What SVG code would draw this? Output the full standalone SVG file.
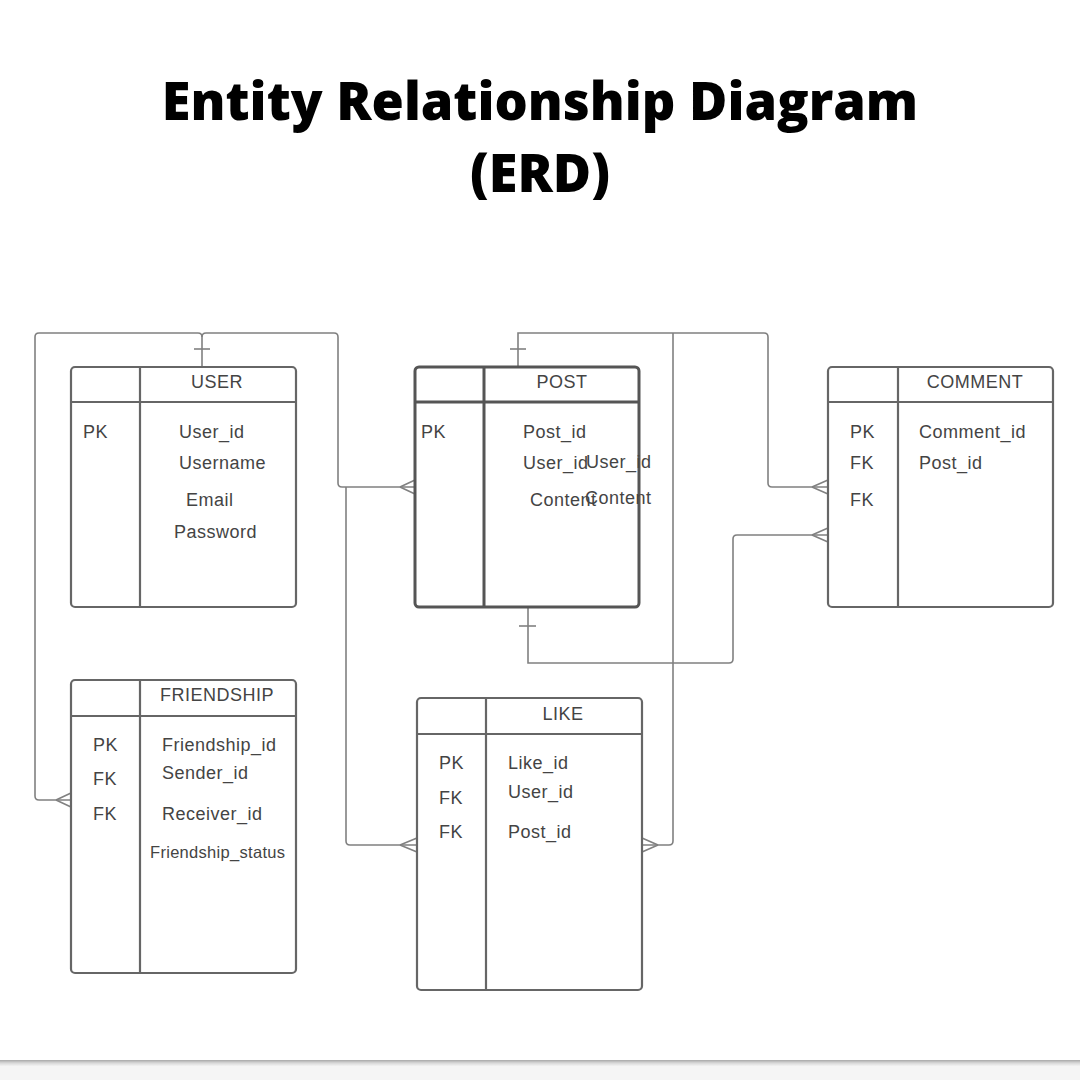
<svg xmlns="http://www.w3.org/2000/svg" width="1080" height="1080" viewBox="0 0 1080 1080">
<defs>
<linearGradient id="shadow" x1="0" y1="0" x2="0" y2="1">
<stop offset="0" stop-color="#a8a8a8"/>
<stop offset="0.5" stop-color="#d8d8d8"/>
<stop offset="1" stop-color="#f2f2f2"/>
</linearGradient>
</defs>
<style>
.title{font-family:"Open Sans","DejaVu Sans",sans-serif;font-weight:800;font-size:52.3px;fill:#000;text-anchor:middle}
.box{fill:#fff;stroke:#666;stroke-width:2.2}
.boxb{fill:#fff;stroke:#555;stroke-width:3}
.div{stroke:#666;stroke-width:2.2;fill:none}
.divb{stroke:#555;stroke-width:3;fill:none}
.t{font-family:"Liberation Sans",Arial,sans-serif;font-size:18px;letter-spacing:0.5px;fill:#444}
.ts{font-family:"Liberation Sans",Arial,sans-serif;font-size:16.5px;letter-spacing:0.3px;fill:#444}
.c{text-anchor:middle}
.ln{fill:none;stroke:#808080;stroke-width:1.6}
</style>
<rect width="1080" height="1080" fill="#fff"/>
<rect x="0" y="1060" width="1080" height="20" fill="#f5f5f5"/>
<rect x="0" y="1060" width="1080" height="6" fill="url(#shadow)"/>

<text class="title" x="540" y="120">Entity Relationship Diagram</text>
<text class="title" x="540" y="192">(ERD)</text>

<g id="connectors">
<!-- USER to FRIENDSHIP -->
<path class="ln" d="M202,367 V337 Q202,333 198,333 H39 Q35,333 35,337 V796 Q35,800 39,800 H71"/>
<path class="ln" d="M194,349 H210"/>
<path class="ln" d="M56,800 L71,793 M56,800 L71,807"/>
<!-- USER to POST -->
<path class="ln" d="M202,337 Q202,333 206,333 H334 Q338,333 338,337 V483 Q338,487 342,487 H415"/>
<path class="ln" d="M400,487 L415,480 M400,487 L415,494"/>
<!-- USER to LIKE -->
<path class="ln" d="M346,487 V841 Q346,845 350,845 H417"/>
<path class="ln" d="M400,845 L417,838 M400,845 L417,852"/>
<!-- POST to COMMENT -->
<path class="ln" d="M518,367 V333 H764 Q768,333 768,337 V483 Q768,487 772,487 H828"/>
<path class="ln" d="M510,349 H526"/>
<path class="ln" d="M812,487 L828,480 M812,487 L828,494"/>
<!-- POST to LIKE -->
<path class="ln" d="M673,333 V841 Q673,845 669,845 H642"/>
<path class="ln" d="M658,845 L642,838 M658,845 L642,852"/>
<!-- POST bottom to COMMENT -->
<path class="ln" d="M528,607 V663 H729 Q733,663 733,659 V539 Q733,535 737,535 H828"/>
<path class="ln" d="M519,626 H536"/>
<path class="ln" d="M812,535 L828,528 M812,535 L828,542"/>
</g>

<g id="user">
<rect class="box" x="71" y="367" width="225" height="240" rx="4"/>
<path class="div" d="M140,367 V607 M71,402 H296"/>
<text class="t c" x="217" y="388">USER</text>
<text class="t" x="83" y="438">PK</text>
<text class="t" x="179" y="438">User_id</text>
<text class="t" x="179" y="469">Username</text>
<text class="t" x="186" y="506">Email</text>
<text class="t" x="174" y="538">Password</text>
</g>

<g id="post">
<rect class="boxb" x="415" y="367" width="224" height="240" rx="4"/>
<path class="divb" d="M484,367 V607 M415,402 H639"/>
<text class="t c" x="562" y="388">POST</text>
<text class="t" x="421" y="438">PK</text>
<text class="t" x="523" y="438">Post_id</text>
<text class="t" x="523" y="469">User_id</text>
<text class="t" x="586" y="468">User_id</text>
<text class="t" x="530" y="506">Content</text>
<text class="t" x="585" y="504">Content</text>
</g>

<g id="comment">
<rect class="box" x="828" y="367" width="225" height="240" rx="4"/>
<path class="div" d="M898,367 V607 M828,402 H1053"/>
<text class="t c" x="975" y="388">COMMENT</text>
<text class="t" x="850" y="438">PK</text>
<text class="t" x="850" y="469">FK</text>
<text class="t" x="850" y="506">FK</text>
<text class="t" x="919" y="438">Comment_id</text>
<text class="t" x="919" y="469">Post_id</text>
</g>

<g id="friendship">
<rect class="box" x="71" y="680" width="225" height="293" rx="4"/>
<path class="div" d="M140,680 V973 M71,716 H296"/>
<text class="t" x="160" y="701">FRIENDSHIP</text>
<text class="t" x="93" y="751">PK</text>
<text class="t" x="93" y="785">FK</text>
<text class="t" x="93" y="820">FK</text>
<text class="t" x="162" y="751">Friendship_id</text>
<text class="t" x="162" y="779">Sender_id</text>
<text class="t" x="162" y="820">Receiver_id</text>
<text class="ts" x="150" y="858">Friendship_status</text>
</g>

<g id="like">
<rect class="box" x="417" y="698" width="225" height="292" rx="4"/>
<path class="div" d="M486,698 V990 M417,734 H642"/>
<text class="t c" x="563" y="720">LIKE</text>
<text class="t" x="439" y="769">PK</text>
<text class="t" x="439" y="804">FK</text>
<text class="t" x="439" y="838">FK</text>
<text class="t" x="508" y="769">Like_id</text>
<text class="t" x="508" y="798">User_id</text>
<text class="t" x="508" y="838">Post_id</text>
</g>
</svg>
